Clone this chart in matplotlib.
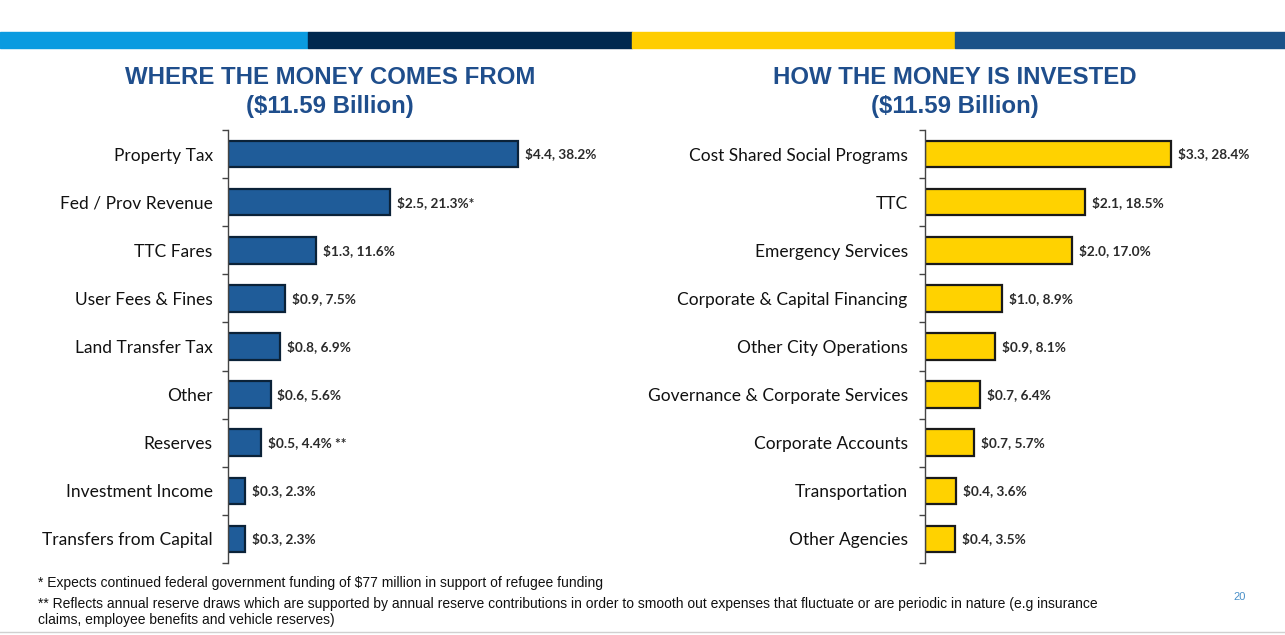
import matplotlib.pyplot as plt
from matplotlib.patches import Rectangle
import numpy as np

# revenue sources, $ billions and share of the $11.59B total
rev_names = ['Property Tax', 'Fed / Prov Revenue', 'TTC Fares', 'User Fees & Fines',
             'Land Transfer Tax', 'Other', 'Reserves', 'Investment Income',
             'Transfers from Capital']
rev_dollars = [4.4, 2.5, 1.3, 0.9, 0.8, 0.6, 0.5, 0.3, 0.3]
rev_pct = [38.2, 21.3, 11.6, 7.5, 6.9, 5.6, 4.4, 2.3, 2.3]
rev_marks = ['', '*', '', '', '', '', ' **', '', '']

# spending by area
exp_names = ['Cost Shared Social Programs', 'TTC', 'Emergency Services',
             'Corporate & Capital Financing', 'Other City Operations',
             'Governance & Corporate Services', 'Corporate Accounts',
             'Transportation', 'Other Agencies']
exp_dollars = [3.3, 2.1, 2.0, 1.0, 0.9, 0.7, 0.7, 0.4, 0.4]
exp_pct = [28.4, 18.5, 17.0, 8.9, 8.1, 6.4, 5.7, 3.6, 3.5]

W, H = 1285, 635
fig = plt.figure(figsize=(W / 100, H / 100), dpi=100)
plt.rcParams['font.family'] = ['Lato', 'DejaVu Sans']

# coloured stripe across the top of the slide
stripe = [('#0A9BE0', 0, 308), ('#00284F', 308, 632), ('#FFCD00', 632, 955), ('#1B5288', 955, W)]
for c, x0, x1 in stripe:
    fig.patches.append(Rectangle((x0 / W, 1 - 48 / H), (x1 - x0) / W, 16 / H,
                                 transform=fig.transFigure, color=c, zorder=0))

title_col = '#1F4E8C'


def panel(left_px, width_px, names, dollars, pct, marks, color, edge, xmax, title, title_x, pad):
    ax = fig.add_axes([left_px / W, 1 - 563 / H, width_px / W, 433 / H])
    y = np.arange(len(names))
    ax.barh(y, pct, height=0.55, color=color, edgecolor=edge, linewidth=1.6)
    for yi, d, p, m in zip(y, dollars, pct, marks):
        ax.text(p + xmax * 0.022, yi, '$%.1f, %.1f%%%s' % (d, p, m), va='center', ha='left',
                fontsize=9.8, fontweight='bold', color='#2a2a2a')
    ax.set_ylim(len(names) - 0.5, -0.5)
    ax.set_xlim(0, xmax)
    ax.set_yticks(y)
    ax.set_yticklabels(names, fontsize=12.5, color='#111111')
    ax.set_yticks(np.arange(-0.5, len(names), 1), minor=True)
    ax.tick_params(axis='y', which='major', length=0, pad=pad)
    ax.tick_params(axis='y', which='minor', length=4, width=1, color='#444444')
    ax.set_xticks([])
    for s in ['top', 'right', 'bottom']:
        ax.spines[s].set_visible(False)
    ax.spines['left'].set_color('#444444')
    ax.spines['left'].set_linewidth(1)
    fig.text(title_x / W, 1 - 77 / H, title, ha='center', va='center', fontsize=17.3,
             fontweight='bold', color=title_col, family='Liberation Sans')
    fig.text(title_x / W, 1 - 106 / H, '($11.59 Billion)', ha='center', va='center',
             fontsize=17.3, fontweight='bold', color=title_col, family='Liberation Sans')
    return ax


panel(228, 304, rev_names, rev_dollars, rev_pct, rev_marks, '#1F5C99', '#0B2238', 40,
      'WHERE THE MONEY COMES FROM', 330, 11)
panel(925, 303, exp_names, exp_dollars, exp_pct, [''] * 9, '#FFD200', '#1A1A1A', 35,
      'HOW THE MONEY IS INVESTED', 955, 12.5)

# footnotes
notes = ['* Expects continued federal government funding of $77 million in support of refugee funding',
         '** Reflects annual reserve draws which are supported by annual reserve contributions in order '
         'to smooth out expenses that fluctuate or are periodic in nature (e.g insurance',
         'claims, employee benefits and vehicle reserves)']
for txt, yp in zip(notes, [583, 604, 620]):
    fig.text(38 / W, 1 - yp / H, txt, ha='left', va='center', fontsize=10, color='#111111',
             family='Liberation Sans')
fig.text(1240 / W, 1 - 597 / H, '20', ha='center', va='center', fontsize=8, color='#4A90C8',
         family='Liberation Sans')

fig.lines.append(plt.Line2D([0, 1], [1 - 632 / H] * 2, transform=fig.transFigure,
                            color='#D0D0D0', linewidth=1))

fig.savefig('out.png', dpi=100)
